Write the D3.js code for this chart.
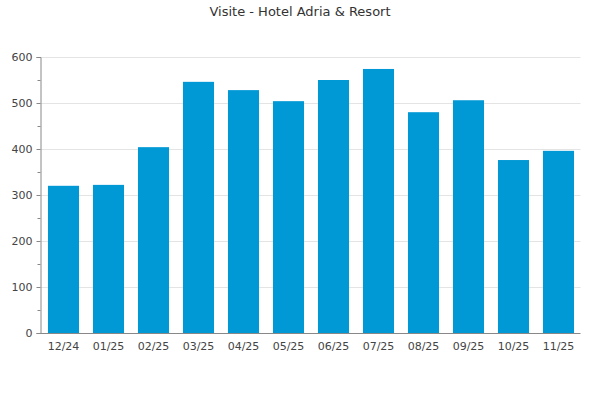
<!DOCTYPE html>
<html>
<head>
<meta charset="utf-8">
<script src="https://cdn.jsdelivr.net/npm/d3@7"></script>
<style>
  html, body { margin: 0; padding: 0; background: #fff; }
  svg { display: block; font-family: "DejaVu Sans", sans-serif; }
</style>
</head>
<body>
<svg id="chart" width="600" height="400"></svg>
<script>
const title = "Visite - Hotel Adria & Resort";
const categories = ["12/24","01/25","02/25","03/25","04/25","05/25","06/25","07/25","08/25","09/25","10/25","11/25"];
const visits = [320, 322, 404, 546, 528, 504, 550, 574, 480, 506, 376, 396];
const yTicks = [0, 100, 200, 300, 400, 500, 600];
const yMinorTicks = [50, 150, 250, 350, 450, 550];

const svg = d3.select("#chart");
const mLeft = 40.5, mRight = 580.5, mTop = 57, mBottom = 333;

const x = d3.scaleBand().domain(categories).range([mLeft + 0.5, mRight + 0.5])
  .paddingInner(0.31).paddingOuter(0.155);
const y = d3.scaleLinear().domain([0, 600]).range([mBottom, mTop]);

// title
svg.append("text").attr("x", 300).attr("y", 16).attr("text-anchor", "middle")
  .attr("font-size", 13).attr("fill", "#333").text(title);

// gridlines
svg.append("g").selectAll("line").data(yTicks.filter(d => d > 0)).join("line")
  .attr("x1", mLeft).attr("x2", mRight)
  .attr("y1", d => Math.round(y(d)) + 0.5).attr("y2", d => Math.round(y(d)) + 0.5)
  .attr("stroke", "#e4e4e4").attr("stroke-width", 1);

// bars
svg.append("g").selectAll("rect").data(visits).join("rect")
  .attr("x", (d, i) => x(categories[i]))
  .attr("width", x.bandwidth())
  .attr("y", d => y(d))
  .attr("height", d => mBottom - y(d))
  .attr("fill", "#0098d5");

// y axis
const yAxis = svg.append("g").attr("transform", `translate(${mLeft},0)`)
  .call(d3.axisLeft(y).tickValues(yTicks).tickSize(4).tickPadding(4).tickFormat(d3.format("d")));
yAxis.select(".domain").attr("stroke", "#888");
yAxis.selectAll(".tick line").attr("stroke", "#888");
yAxis.selectAll("text").attr("font-size", 11).attr("fill", "#444").attr("font-family", "DejaVu Sans, sans-serif");
svg.append("g").attr("transform", `translate(${mLeft},0)`)
  .call(d3.axisLeft(y).tickValues(yMinorTicks).tickSize(3).tickFormat(""))
  .call(g => g.select(".domain").remove())
  .selectAll(".tick line").attr("stroke", "#888");

// x axis
const xAxis = svg.append("g").attr("transform", `translate(0,${mBottom + 0.5})`)
  .call(d3.axisBottom(x).tickSize(0).tickPadding(9).tickSizeOuter(0));
xAxis.select(".domain").attr("stroke", "#888").attr("d", `M${mLeft},0H${mRight}`);
xAxis.selectAll("text").attr("font-size", 11).attr("fill", "#444").attr("font-family", "DejaVu Sans, sans-serif");
</script>
</body>
</html>
